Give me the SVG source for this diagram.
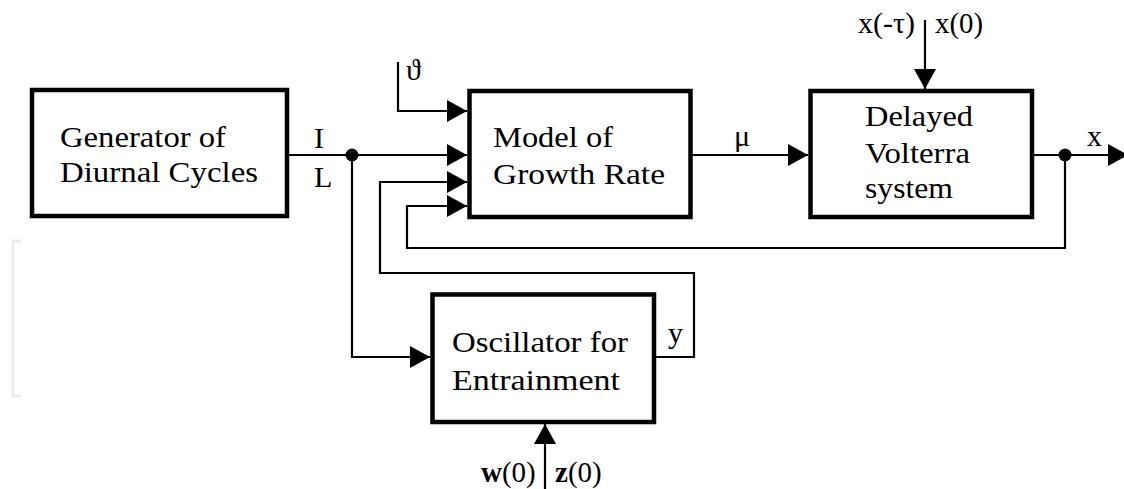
<svg xmlns="http://www.w3.org/2000/svg" width="1124" height="489" viewBox="0 0 1124 489">
<defs>
<style>
.box{fill:#fff;stroke:#000;stroke-width:4.5}
.wire{fill:none;stroke:#000;stroke-width:2.2}
.t{font-family:"Liberation Serif","DejaVu Serif",serif;font-size:30px;fill:#000}
.s{font-family:"Liberation Serif","DejaVu Serif",serif;font-size:29px;fill:#000}
.b{font-weight:bold}
</style>
<marker id="arr" viewBox="0 0 20 22" refX="20" refY="11" markerWidth="20" markerHeight="22" markerUnits="userSpaceOnUse" orient="auto">
<path d="M0,0 L20,11 L0,22 Z" fill="#000"/>
</marker>
</defs>
<rect width="1124" height="489" fill="#fff"/>
<path d="M21,241 H13 V396 H21" fill="none" stroke="#ececec" stroke-width="3"/>

<g id="connectors">
<path class="wire" d="M287,155 H467" marker-end="url(#arr)"/>
<path class="wire" d="M352,155 V357 H430" marker-end="url(#arr)"/>
<path class="wire" d="M398,62 V111 H467" marker-end="url(#arr)"/>
<path class="wire" d="M654,357 H694 V273 H380 V182 H467" marker-end="url(#arr)"/>
<path class="wire" d="M1065,155 V248 H407 V206 H467" marker-end="url(#arr)"/>
<path class="wire" d="M690,155 H808" marker-end="url(#arr)"/>
<path class="wire" d="M1032,155 H1128" marker-end="url(#arr)"/>
<path class="wire" d="M925,20 V89" marker-end="url(#arr)"/>
<path class="wire" d="M545,489 V424" marker-end="url(#arr)"/>
<circle cx="352" cy="155" r="6.5" fill="#000"/>
<circle cx="1065" cy="155" r="6.5" fill="#000"/>
<text class="t" x="314" y="148">I</text>
<text class="t" x="314" y="187">L</text>
<text class="t" x="406" y="80">ϑ</text>
<text class="t" x="734" y="146">μ</text>
<text class="t" x="1087" y="146">x</text>
<text class="t" x="668" y="343">y</text>
<text class="s" x="858" y="33" textLength="57" lengthAdjust="spacingAndGlyphs">x(-τ)</text>
<text class="s" x="935" y="33" textLength="48" lengthAdjust="spacingAndGlyphs">x(0)</text>
<text class="s" x="481" y="482"><tspan class="b">w</tspan>(0)</text>
<text class="s" x="555" y="482"><tspan class="b">z</tspan>(0)</text>
</g>

<g id="generator">
<rect class="box" x="32" y="90" width="255" height="126"/>
<text class="t" x="60" y="147" textLength="166" lengthAdjust="spacingAndGlyphs">Generator of</text>
<text class="t" x="60" y="182" textLength="198" lengthAdjust="spacingAndGlyphs">Diurnal Cycles</text>
</g>

<g id="growth">
<rect class="box" x="469.5" y="91" width="221" height="126"/>
<text class="t" x="493" y="147" textLength="120" lengthAdjust="spacingAndGlyphs">Model of</text>
<text class="t" x="493" y="184" textLength="172" lengthAdjust="spacingAndGlyphs">Growth Rate</text>
</g>

<g id="volterra">
<rect class="box" x="810.5" y="91" width="221.5" height="126"/>
<text class="t" x="865" y="126" textLength="108" lengthAdjust="spacingAndGlyphs">Delayed</text>
<text class="t" x="865" y="163" textLength="105" lengthAdjust="spacingAndGlyphs">Volterra</text>
<text class="t" x="865" y="198" textLength="88" lengthAdjust="spacingAndGlyphs">system</text>
</g>

<g id="oscillator">
<rect class="box" x="432.5" y="294.5" width="221.5" height="127.5"/>
<text class="t" x="452" y="352" textLength="176" lengthAdjust="spacingAndGlyphs">Oscillator for</text>
<text class="t" x="452" y="390" textLength="168" lengthAdjust="spacingAndGlyphs">Entrainment</text>
</g>
</svg>
